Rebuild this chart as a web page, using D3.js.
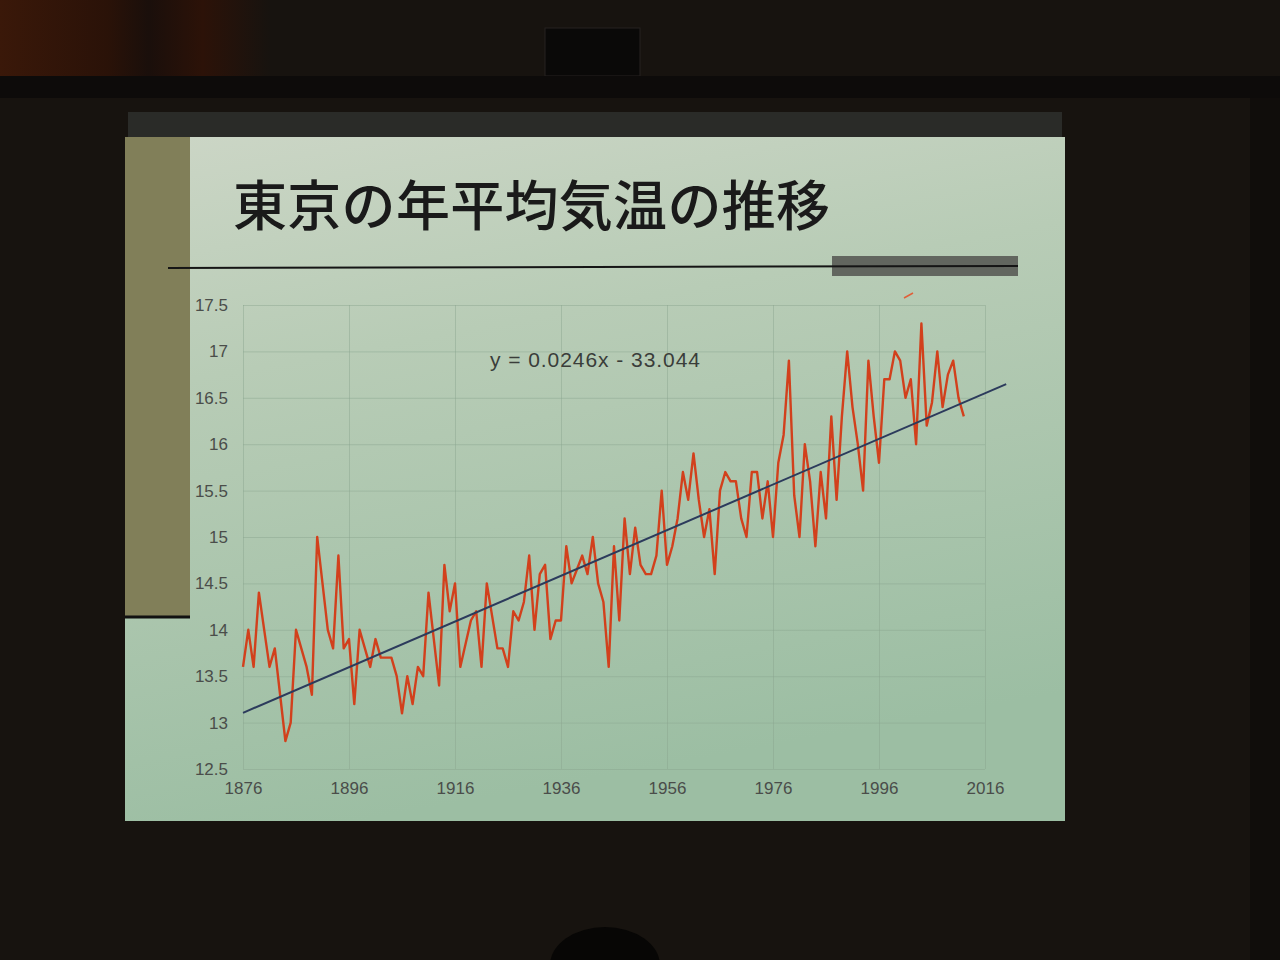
<!DOCTYPE html>
<html>
<head>
<meta charset="utf-8">
<script src="https://cdn.jsdelivr.net/npm/d3@7"></script>
<style>
  body { margin: 0; background: #17130f; }
  svg { display: block; }
</style>
</head>
<body>
<svg width="1280" height="960"></svg>
<script>
var years = d3.range(1876, 2013);
var temps = [
  13.6, 14.0, 13.6, 14.4, 14.0, 13.6, 13.8, 13.3, 12.8, 13.0,
  14.0, 13.8, 13.6, 13.3, 15.0, 14.5, 14.0, 13.8, 14.8, 13.8,
  13.9, 13.2, 14.0, 13.8, 13.6, 13.9, 13.7, 13.7, 13.7, 13.5,
  13.1, 13.5, 13.2, 13.6, 13.5, 14.4, 13.9, 13.4, 14.7, 14.2,
  14.5, 13.6, 13.85, 14.1, 14.2, 13.6, 14.5, 14.15, 13.8, 13.8,
  13.6, 14.2, 14.1, 14.3, 14.8, 14.0, 14.6, 14.7, 13.9, 14.1,
  14.1, 14.9, 14.5, 14.65, 14.8, 14.6, 15.0, 14.5, 14.3, 13.6,
  14.9, 14.1, 15.2, 14.6, 15.1, 14.7, 14.6, 14.6, 14.8, 15.5,
  14.7, 14.9, 15.2, 15.7, 15.4, 15.9, 15.4, 15.0, 15.3, 14.6,
  15.5, 15.7, 15.6, 15.6, 15.2, 15.0, 15.7, 15.7, 15.2, 15.6,
  15.0, 15.8, 16.1, 16.9, 15.45, 15.0, 16.0, 15.6, 14.9, 15.7,
  15.2, 16.3, 15.4, 16.3, 17.0, 16.4, 16.0, 15.5, 16.9, 16.3,
  15.8, 16.7, 16.7, 17.0, 16.9, 16.5, 16.7, 16.0, 17.3, 16.2,
  16.45, 17.0, 16.4, 16.75, 16.9, 16.5, 16.3
];
var xTicks = [1876, 1896, 1916, 1936, 1956, 1976, 1996, 2016];
var yTicks = [12.5, 13, 13.5, 14, 14.5, 15, 15.5, 16, 16.5, 17, 17.5];
var slope = 0.0246, intercept = -33.044;
var trendYears = [1876, 2020];
var title = "東京の年平均気温の推移";
var equation = "y = 0.0246x - 33.044";

var svg = d3.select("svg");
var defs = svg.append("defs");

var grad = defs.append("linearGradient")
    .attr("id", "slideBg")
    .attr("x1", 0).attr("y1", 0).attr("x2", 0.25).attr("y2", 1);
grad.append("stop").attr("offset", 0).attr("stop-color", "#ccd6c6");
grad.append("stop").attr("offset", 0.35).attr("stop-color", "#b8ccb6");
grad.append("stop").attr("offset", 1).attr("stop-color", "#9cbea3");

var warm = defs.append("linearGradient").attr("id", "warm");
warm.append("stop").attr("offset", 0).attr("stop-color", "#3a1809");
warm.append("stop").attr("offset", 0.4).attr("stop-color", "#2a1208");
warm.append("stop").attr("offset", 0.55).attr("stop-color", "#1a0f0b");
warm.append("stop").attr("offset", 0.75).attr("stop-color", "#2c1208");
warm.append("stop").attr("offset", 1).attr("stop-color", "#17130f");

// room around the projected slide
svg.append("rect").attr("width", 1280).attr("height", 960).attr("fill", "#17130f");
svg.append("rect").attr("x", 0).attr("y", 0).attr("width", 270).attr("height", 76)
   .attr("fill", "url(#warm)");
svg.append("rect").attr("x", 545).attr("y", 28).attr("width", 95).attr("height", 48)
   .attr("fill", "#0a0908").attr("stroke", "#262220");
svg.append("rect").attr("x", 0).attr("y", 76).attr("width", 1280).attr("height", 22)
   .attr("fill", "#0d0b0a");
svg.append("rect").attr("x", 1250).attr("y", 98).attr("width", 30).attr("height", 862)
   .attr("fill", "#100d0b");
svg.append("ellipse").attr("cx", 605).attr("cy", 965).attr("rx", 55).attr("ry", 38)
   .attr("fill", "#070605");

// slide
svg.append("rect").attr("x", 128).attr("y", 112).attr("width", 934).attr("height", 26)
   .attr("fill", "#2a2b28");
svg.append("rect").attr("x", 125).attr("y", 137).attr("width", 940).attr("height", 684)
   .attr("fill", "url(#slideBg)");
svg.append("rect").attr("x", 125).attr("y", 137).attr("width", 65).attr("height", 480)
   .attr("fill", "#817f59");
svg.append("line").attr("x1", 125).attr("x2", 190).attr("y1", 617).attr("y2", 617)
   .attr("stroke", "#111").attr("stroke-width", 3);

svg.append("text")
   .attr("x", 233).attr("y", 226)
   .attr("font-family", "'Noto Sans CJK JP', sans-serif")
   .attr("font-size", 54)
   .attr("font-weight", 500)
   .attr("textLength", 597)
   .attr("lengthAdjust", "spacing")
   .attr("fill", "#1a1a1a")
   .text(title);

svg.append("rect").attr("x", 832).attr("y", 256).attr("width", 186).attr("height", 20)
   .attr("fill", "#62665f");
svg.append("line").attr("x1", 168).attr("x2", 1018).attr("y1", 268).attr("y2", 266)
   .attr("stroke", "#151515").attr("stroke-width", 2);

// chart
var x = d3.scaleLinear().domain([1876, 2016]).range([243, 985]);
var y = d3.scaleLinear().domain([12.5, 17.5]).range([769, 305]);

svg.append("g")
   .attr("transform", "translate(0,769)")
   .call(d3.axisBottom(x).tickValues(xTicks).tickSize(-464).tickFormat(""))
   .call(function(g) { g.select(".domain").remove(); })
   .selectAll("line").attr("stroke", "#8aa48e").attr("stroke-opacity", 0.45);

svg.append("g")
   .attr("transform", "translate(243,0)")
   .call(d3.axisLeft(y).tickValues(yTicks).tickSize(-742).tickFormat(""))
   .call(function(g) { g.select(".domain").remove(); })
   .selectAll("line").attr("stroke", "#8aa48e").attr("stroke-opacity", 0.45);

var yAxis = svg.append("g")
   .attr("transform", "translate(243,0)")
   .call(d3.axisLeft(y).tickValues(yTicks).tickSize(0).tickPadding(15).tickFormat(d3.format("")));
yAxis.select(".domain").remove();
yAxis.selectAll("text")
   .attr("font-family", "'Liberation Sans', Arial, sans-serif")
   .attr("font-size", 17).attr("fill", "#4a4d4a");

var xAxis = svg.append("g")
   .attr("transform", "translate(0,769)")
   .call(d3.axisBottom(x).tickValues(xTicks).tickSize(0).tickPadding(13).tickFormat(d3.format("d")));
xAxis.select(".domain").remove();
xAxis.selectAll("text")
   .attr("font-family", "'Liberation Sans', Arial, sans-serif")
   .attr("font-size", 17).attr("fill", "#4a4d4a");

var line = d3.line()
    .x(function(d, i) { return x(years[i]); })
    .y(function(d) { return y(d); });

svg.append("path")
   .datum(temps)
   .attr("d", line)
   .attr("fill", "none")
   .attr("stroke", "#d2401c")
   .attr("stroke-width", 2.4)
   .attr("stroke-linejoin", "round");

svg.append("path")
   .datum(trendYears)
   .attr("d", d3.line()
       .x(function(d) { return x(d); })
       .y(function(d) { return y(slope * d + intercept); }))
   .attr("stroke", "#2c3b5c")
   .attr("stroke-width", 2);

svg.append("text")
   .attr("x", 490).attr("y", 367)
   .attr("font-family", "'Liberation Sans', Arial, sans-serif")
   .attr("font-size", 21)
   .attr("textLength", 210)
   .attr("lengthAdjust", "spacing")
   .attr("fill", "#3a3d3a")
   .text(equation);

// stray laser mark above the plot
svg.append("line").attr("x1", 904).attr("y1", 298).attr("x2", 913).attr("y2", 293)
   .attr("stroke", "#e0603a").attr("stroke-width", 1.5);
</script>
</body>
</html>
